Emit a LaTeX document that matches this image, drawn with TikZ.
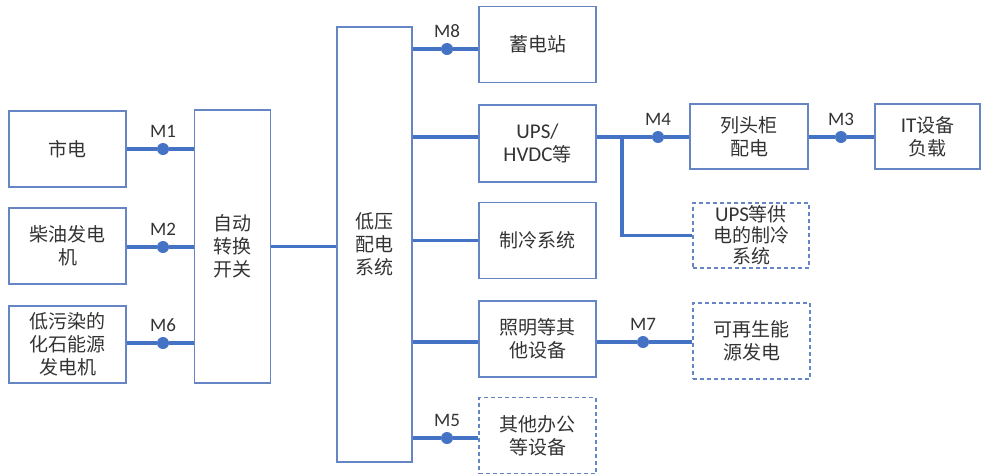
\documentclass[tikz,border=0pt]{standalone}
\usepackage{fontspec}
\setmainfont{Noto Sans CJK SC}
\newfontfamily\lat{Carlito}
\definecolor{edgeblue}{HTML}{6585C4}
\definecolor{wireblue}{HTML}{4472C4}
\definecolor{ink}{HTML}{333333}
\tikzset{
  box/.style={draw=edgeblue,line width=1.6pt,align=center,text=ink,inner sep=0pt,
    minimum width=117,minimum height=76,font=\fontsize{19}{23}\selectfont},
  dbox/.style={box,dash pattern=on 4pt off 3pt},
  wire/.style={draw=wireblue,line width=3.2pt},
  dot/.style={circle,fill=wireblue,inner sep=0pt,minimum size=12,
    label={[text=ink,font=\lat\fontsize{19}{20}\selectfont,label distance=2pt]above:#1}}
}
\begin{document}
\begin{tikzpicture}[x=1pt,y=-1pt]
\useasboundingbox (0,0) rectangle (982,475);
\node[box] (grid) at (67.5,149) {市电};
\node[box] (diesel) at (67.5,246) {柴油发电\\机};
\node[box,minimum height=77] (fossil) at (67.5,344.5) {低污染的\\化石能源\\发电机};
\node[box,minimum width=76,minimum height=273] (ats) at (232.5,246.5) {自动\\转换\\开关};
\node[box,minimum width=75,minimum height=435] (lv) at (374.5,244.5) {低压\\配电\\系统};
\node[box] (store) at (537.5,44.5) {蓄电站};
\node[box,minimum height=77] (ups) at (537.5,143.5) {{\lat\fontsize{21}{23}\selectfont UPS/}\\{\lat\fontsize{21}{23}\selectfont HVDC}等};
\node[box] (cool) at (537.5,240.5) {制冷系统};
\node[box] (light) at (537.5,339) {照明等其\\他设备};
\node[dbox] (office) at (537.5,435.5) {其他办公\\等设备};
\node[box,minimum width=118,minimum height=65] (pdu) at (749,136.5) {列头柜\\配电};
\node[box,minimum width=105,minimum height=65] (it) at (927.5,136.5) {{\lat\fontsize{21}{23}\selectfont IT}设备\\负载};
\node[dbox,minimum width=116,minimum height=65,font=\fontsize{19}{21}\selectfont] (upscool) at (751,235.5) {{\lat\fontsize{21}{21}\selectfont UPS}等供\\电的制冷\\系统};
\node[dbox] (renew) at (751.5,341) {可再生能\\源发电};
\node[dot=M1] (m1) at (163,149) {};
\node[dot=M2] (m2) at (163,247) {};
\node[dot=M6] (m6) at (163,343) {};
\node[dot=M8] (m8) at (447,49) {};
\node[dot=M4] (m4) at (658,137) {};
\node[dot=M3] (m3) at (841,137) {};
\node[dot=M7] (m7) at (643,342) {};
\node[dot=M5] (m5) at (447,438) {};
\coordinate (tap) at (622,137);
\draw[wire] (grid.east) -- (m1) -- (m1 -| ats.west);
\draw[wire] (diesel.east |- m2) -- (m2) -- (m2 -| ats.west);
\draw[wire] (fossil.east |- m6) -- (m6) -- (m6 -| ats.west);
\draw[wire] (ats.east) -- (ats.east -| lv.west);
\draw[wire] (lv.east |- m8) -- (m8) -- (m8 -| store.west);
\draw[wire] (lv.east |- m4) -- (ups.west |- m4);
\draw[wire] (ups.east |- m4) -- (m4) -- (pdu.west |- m4);
\draw[wire] (tap) |- (upscool.west);
\draw[wire] (pdu.east |- m3) -- (m3) -- (it.west |- m3);
\draw[wire] (lv.east |- cool.west) -- (cool.west);
\draw[wire] (lv.east |- m7) -- (light.west |- m7);
\draw[wire] (light.east |- m7) -- (m7) -- (renew.west |- m7);
\draw[wire] (lv.east |- m5) -- (m5) -- (office.west |- m5);
\end{tikzpicture}
\end{document}
